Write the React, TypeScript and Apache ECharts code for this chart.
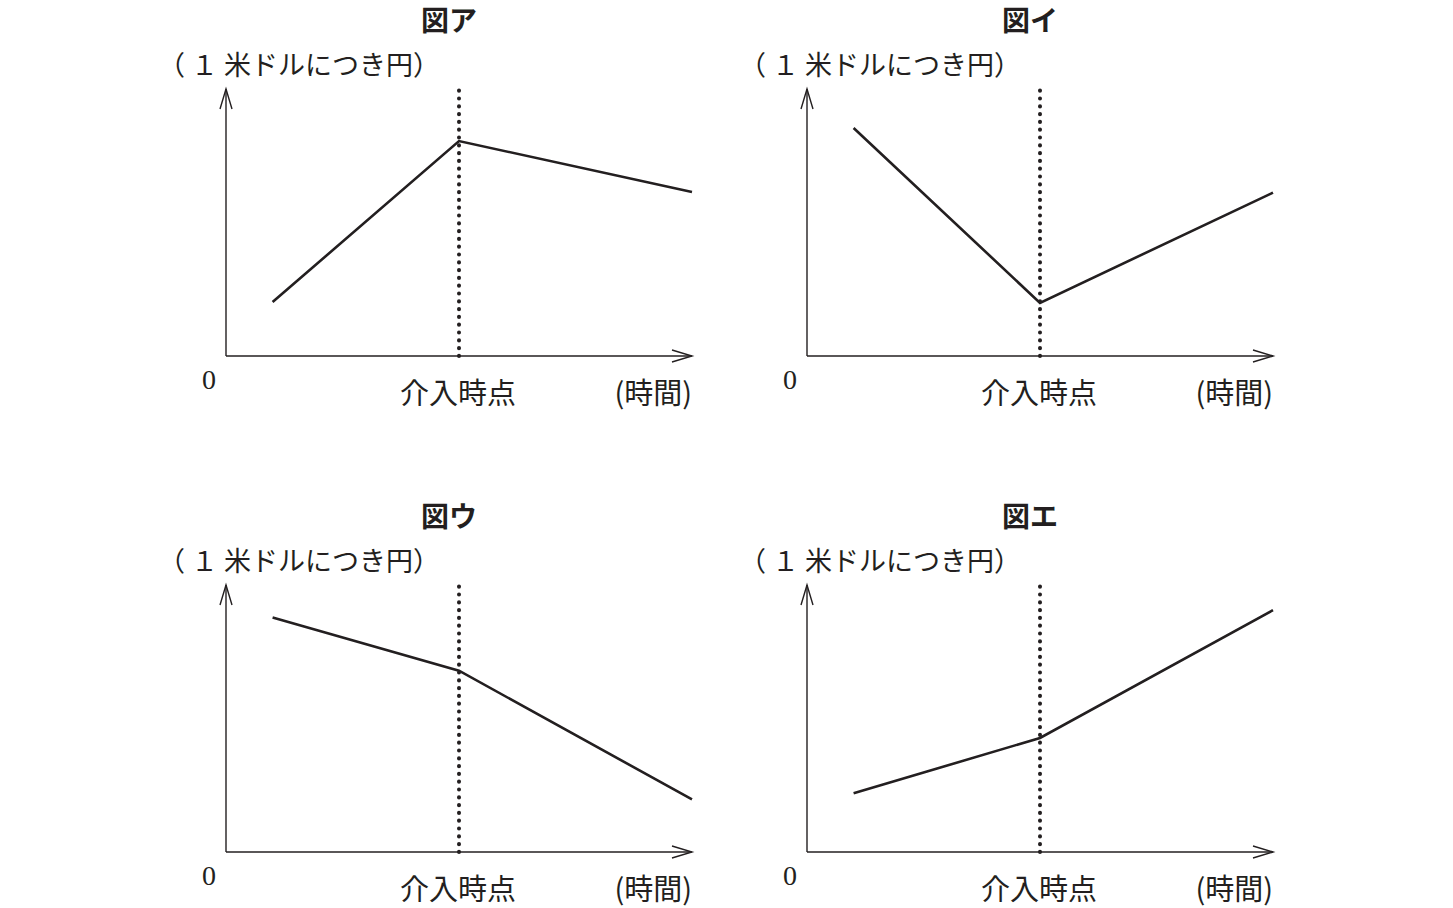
import React, { useEffect, useRef } from "react";
import * as echarts from "echarts";

const panelTitles = ["図ア", "図イ", "図ウ", "図エ"];
const timeX = [1, 5, 10];
const valuesA = [2.02, 8.05, 6.14];
const valuesI = [8.54, 1.99, 6.12];
const valuesU = [8.78, 6.79, 1.97];
const valuesE = [2.2, 4.27, 9.06];
const panelValues = [valuesA, valuesI, valuesU, valuesE];
const interventionX = 5;
const yAxisName = "（ １ 米ドルにつき円）";
const xAxisName = "(時間)";
const interventionLabel = "介入時点";
const originLabel = "0";

const INK = "#231f20";
const SERIF = "'Liberation Serif', 'DejaVu Serif', 'Noto Sans CJK JP', serif";
const JP = "'Noto Sans CJK JP', 'Liberation Serif', serif";

const panelOrigins = [
  [0, 0],
  [581, 0],
  [0, 496],
  [581, 496],
];

export default function App() {
  const ref = useRef<HTMLDivElement>(null);
  useEffect(() => {
    const chart = echarts.init(ref.current!, undefined, { renderer: "svg" });
    const grids: any[] = [];
    const xAxes: any[] = [];
    const yAxes: any[] = [];
    const series: any[] = [];
    const graphics: any[] = [];

    panelOrigins.forEach(([dx, dy], i) => {
      grids.push({ left: 226 + dx, top: 89 + dy, width: 466, height: 267 });
      xAxes.push({ gridIndex: i, type: "value", min: 0, max: 10, show: false });
      yAxes.push({ gridIndex: i, type: "value", min: 0, max: 10, show: false });

      // axes with open arrowheads
      series.push({
        type: "custom",
        xAxisIndex: i,
        yAxisIndex: i,
        silent: true,
        data: [[0, 0]],
        renderItem: (_p: any, api: any) => {
          const o = api.coord([0, 0]);
          const xe = api.coord([10, 0]);
          const ye = api.coord([0, 10]);
          const st = { stroke: INK, lineWidth: 1.4, fill: "none" };
          return {
            type: "group",
            children: [
              { type: "polyline", shape: { points: [o, xe] }, style: st },
              { type: "polyline", shape: { points: [[xe[0] - 20, xe[1] - 6], xe, [xe[0] - 20, xe[1] + 6]] }, style: st },
              { type: "polyline", shape: { points: [o, ye] }, style: st },
              { type: "polyline", shape: { points: [[ye[0] - 6, ye[1] + 20], ye, [ye[0] + 6, ye[1] + 20]] }, style: st },
            ],
          };
        },
      });

      // intervention dotted line
      series.push({
        type: "line",
        xAxisIndex: i,
        yAxisIndex: i,
        silent: true,
        symbol: "none",
        data: [
          [interventionX, 0],
          [interventionX, 10.05],
        ],
        lineStyle: { color: INK, width: 4, type: [0.2, 7.6], cap: "round" },
        z: 3,
      });

      // exchange rate line
      series.push({
        type: "line",
        xAxisIndex: i,
        yAxisIndex: i,
        silent: true,
        symbol: "none",
        data: timeX.map((x, k) => [x, panelValues[i][k]]),
        lineStyle: { color: INK, width: 2.6, join: "miter" },
        z: 4,
      });

      graphics.push(
        {
          type: "text",
          x: 449 + dx,
          y: 19 + dy,
          style: { text: panelTitles[i], font: `bold 28px ${JP}`, lineHeight: 28, fill: INK, align: "center", verticalAlign: "middle" },
        },
        {
          type: "text",
          x: 158 + dx,
          y: 63 + dy,
          style: { text: yAxisName, font: `27px ${JP}`, lineHeight: 27, fill: INK, align: "left", verticalAlign: "middle" },
        },
        {
          type: "text",
          x: 209 + dx,
          y: 379 + dy,
          style: { text: originLabel, font: `28px ${SERIF}`, lineHeight: 28, fill: INK, align: "center", verticalAlign: "middle" },
        },
        {
          type: "text",
          x: 458 + dx,
          y: 391 + dy,
          style: { text: interventionLabel, font: `29px ${JP}`, lineHeight: 29, fill: INK, align: "center", verticalAlign: "middle" },
        },
        {
          type: "text",
          x: 692 + dx,
          y: 391 + dy,
          style: { text: xAxisName, font: `29px ${JP}`, lineHeight: 29, fill: INK, align: "right", verticalAlign: "middle" },
        }
      );
    });

    chart.setOption({
      animation: false,
      backgroundColor: "#ffffff",
      grid: grids,
      xAxis: xAxes,
      yAxis: yAxes,
      series,
      graphic: graphics,
    });
    return () => chart.dispose();
  }, []);

  return (
    <div
      ref={ref}
      style={{ position: "fixed", left: 0, top: 0, width: 1453, height: 908, background: "#fff" }}
    />
  );
}
